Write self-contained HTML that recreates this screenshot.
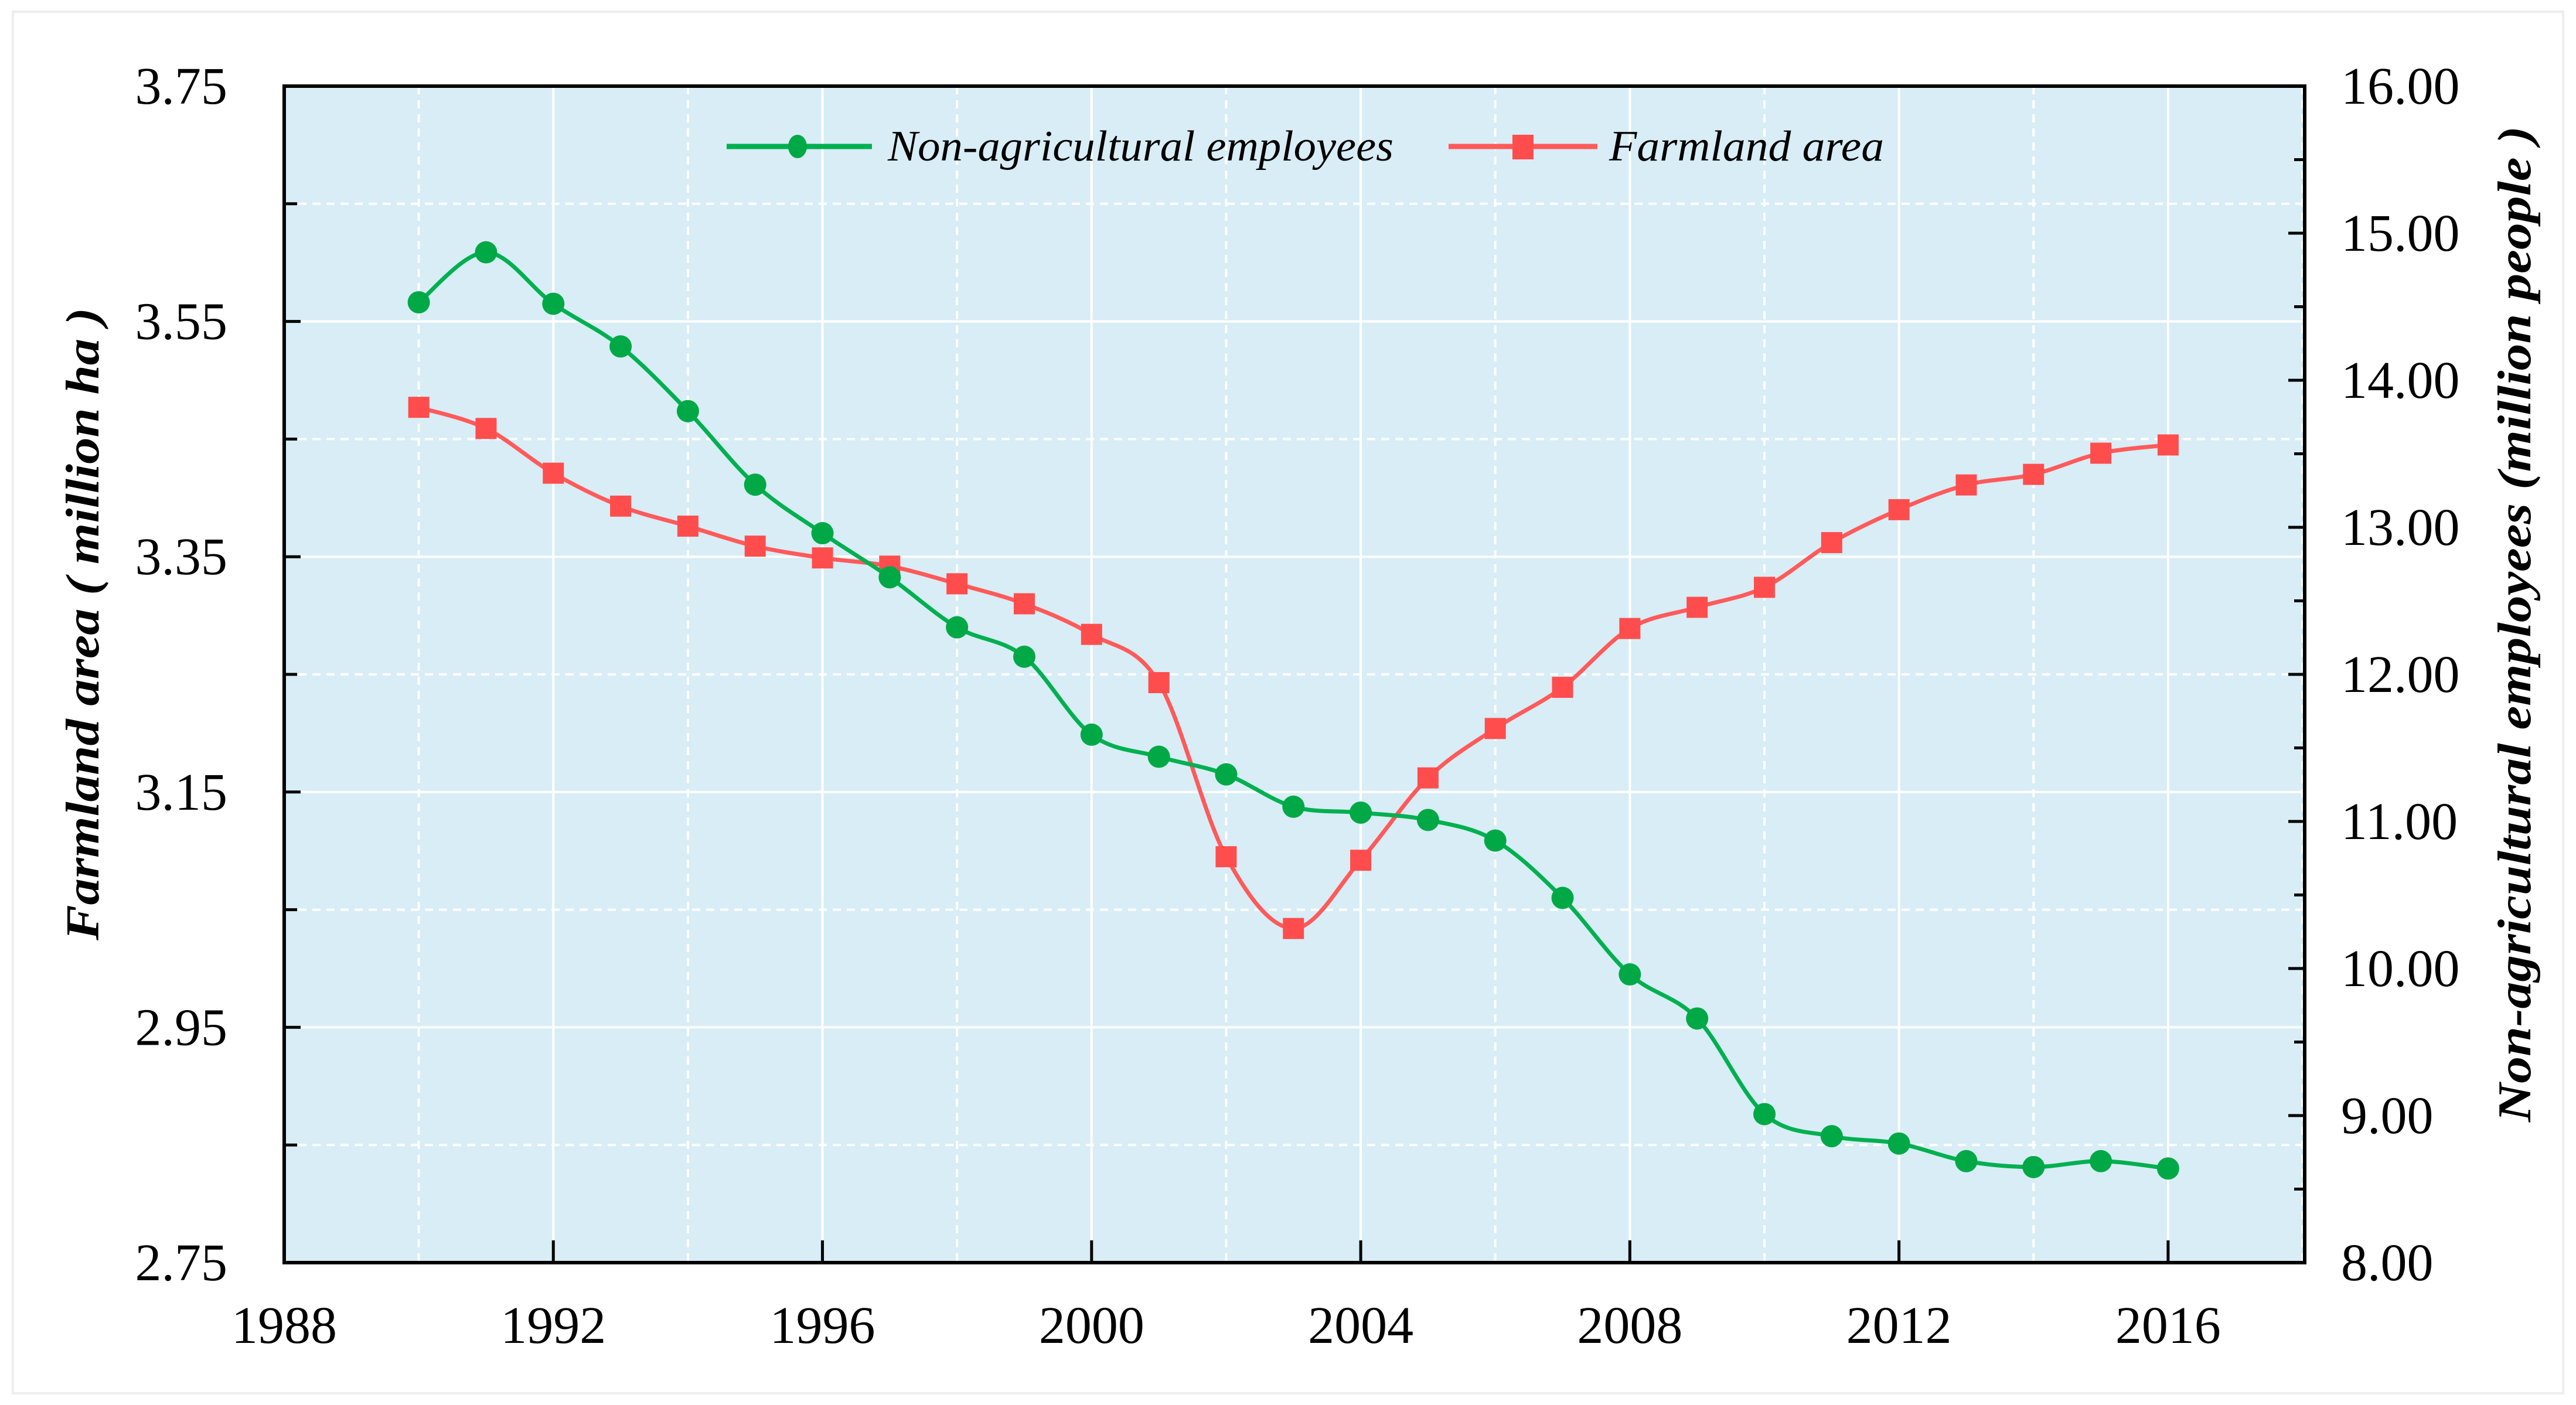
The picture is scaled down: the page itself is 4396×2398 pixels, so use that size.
<!DOCTYPE html>
<html><head><meta charset="utf-8">
<style>
html,body{margin:0;padding:0;background:#fff;}
svg{display:block;}
text{font-family:"Liberation Serif","Times New Roman",serif;fill:#000;}
</style></head>
<body>
<svg id="chart" width="4396" height="2398" viewBox="0 0 4396 2398" xmlns="http://www.w3.org/2000/svg">
<rect x="22" y="20" width="4352" height="2358" fill="#fff" stroke="#eeeeee" stroke-width="4"/>
<rect x="485" y="147" width="3448" height="2008" fill="#d8edf6"/>
<g id="grid"></g>
<g id="series"></g>
<rect x="485" y="147" width="3448" height="2008" fill="none" stroke="#000" stroke-width="6"/>
<g id="axes"></g>
<text transform="translate(168,1065) rotate(-90)" text-anchor="middle" font-size="80" font-weight="bold" font-style="italic" textLength="1080" lengthAdjust="spacingAndGlyphs">Farmland area ( million ha )</text>
<text transform="translate(4318,1065) rotate(-90)" text-anchor="middle" font-size="80" font-weight="bold" font-style="italic" textLength="1700" lengthAdjust="spacingAndGlyphs">Non-agricultural employees (million people )</text>
<g>
  <g>
    <line x1="1240" y1="250" x2="1488" y2="250" stroke="#00b050" stroke-width="9"/>
    <ellipse cx="1361" cy="250" rx="16" ry="20" fill="#00a846"/>
    <text x="1515" y="274" font-size="74" font-style="italic" textLength="863" lengthAdjust="spacingAndGlyphs">Non-agricultural employees</text>
  </g>
  <g>
    <line x1="2472" y1="250" x2="2726" y2="250" stroke="#ff5a5a" stroke-width="9"/>
    <rect x="2581" y="230" width="36" height="42" fill="#ff4d4d"/>
    <text x="2746" y="274" font-size="74" font-style="italic" textLength="469" lengthAdjust="spacingAndGlyphs">Farmland area</text>
  </g>
</g>
</svg>
<script>
const years = [1990,1991,1992,1993,1994,1995,1996,1997,1998,1999,2000,2001,2002,2003,2004,2005,2006,2007,2008,2009,2010,2011,2012,2013,2014,2015,2016];
const employees = [14.53,14.87,14.52,14.23,13.79,13.29,12.96,12.66,12.32,12.12,11.59,11.44,11.32,11.10,11.06,11.01,10.87,10.48,9.96,9.66,9.01,8.86,8.81,8.69,8.65,8.69,8.64];
const farmland = [3.477,3.459,3.421,3.393,3.376,3.359,3.349,3.342,3.327,3.310,3.284,3.243,3.095,3.034,3.092,3.162,3.204,3.239,3.289,3.307,3.324,3.362,3.390,3.411,3.420,3.438,3.445];
const xTicks = [1988,1992,1996,2000,2004,2008,2012,2016];
const leftTicks = ["3.75","3.55","3.35","3.15","2.95","2.75"];
const rightTicks = ["16.00","15.00","14.00","13.00","12.00","11.00","10.00","9.00","8.00"];

const NS="http://www.w3.org/2000/svg";
const L=485,R=3933,T=147,B=2155;
const X0=1988,X1=2018.03;
const x=v=>L+(v-X0)/(X1-X0)*(R-L);
const yL=v=>B-(v-2.75)/(1.0)*(B-T);
const yR=v=>B-(v-8)/8*(B-T);
function mk(tag,attrs,parent){const e=document.createElementNS(NS,tag);for(const k in attrs)e.setAttribute(k,attrs[k]);parent.appendChild(e);return e;}
const grid=document.getElementById('grid'),axes=document.getElementById('axes'),series=document.getElementById('series');

for(let yr=1990;yr<=2018;yr+=2){
  const major=(yr%4===0);
  const g=mk('line',{x1:x(yr),x2:x(yr),y1:T,y2:B,stroke:'#ffffff','stroke-width':4,'stroke-dasharray':major?'none':'14 10'},grid);
  
  
}
for(let i=1;i<10;i++){
  const v=2.75+i*0.1;
  const major=(i%2===0);
  const g=mk('line',{x1:L,x2:R,y1:yL(v),y2:yL(v),stroke:'#ffffff','stroke-width':4,'stroke-dasharray':major?'none':'14 10'},grid);
  
  
}
xTicks.forEach(t=>{
  const tk=mk('line',{x1:x(t),x2:x(t),y1:B,y2:B-38,stroke:'#000','stroke-width':5},axes);
  
  
  const tx=mk('text',{x:x(t),y:2292,'text-anchor':'middle','font-size':90},axes);
  tx.textContent=t;
  
  
});
leftTicks.forEach(s=>{
  const v=parseFloat(s);
  const tx=mk('text',{x:388,y:yL(v)+30,'text-anchor':'end','font-size':90},axes);
  tx.textContent=s;
  
  
});
for(let i=1;i<10;i++){
  const v=2.75+i*0.1;
  const tk=mk('line',{x1:L,x2:L+(i%2===0?28:22),y1:yL(v),y2:yL(v),stroke:'#000','stroke-width':5},axes);
  
  
}
rightTicks.forEach(s=>{
  const v=parseFloat(s);
  const tx=mk('text',{x:3995,y:yR(v)+30,'text-anchor':'start','font-size':90},axes);
  tx.textContent=s;
  
  
});
for(let i=1;i<16;i++){
  const v=8+i*0.5;
  const tk=mk('line',{x1:R,x2:R-(i%2===0?28:18),y1:yR(v),y2:yR(v),stroke:'#000','stroke-width':5},axes);
  
  
}
function smooth(pts){
  let d='M'+pts[0][0]+','+pts[0][1];
  for(let i=0;i<pts.length-1;i++){
    const p0=pts[i-1]||pts[i],p1=pts[i],p2=pts[i+1],p3=pts[i+2]||p2;
    const c1=[p1[0]+(p2[0]-p0[0])/6,p1[1]+(p2[1]-p0[1])/6];
    const c2=[p2[0]-(p3[0]-p1[0])/6,p2[1]-(p3[1]-p1[1])/6];
    d+=' C'+c1[0]+','+c1[1]+' '+c2[0]+','+c2[1]+' '+p2[0]+','+p2[1];
  }
  return d;
}
const fp=years.map((yr,i)=>[x(yr),yL(farmland[i])]);
const fl=mk('path',{d:smooth(fp),fill:'none',stroke:'#ff5a5a','stroke-width':7},series);


fp.forEach(p=>{
  const m=mk('rect',{x:p[0]-18,y:p[1]-18,width:36,height:36,fill:'#ff4d4d'},series);
  
  
});
const ep=years.map((yr,i)=>[x(yr),yR(employees[i])]);
const el=mk('path',{d:smooth(ep),fill:'none',stroke:'#00b050','stroke-width':7},series);


ep.forEach(p=>{
  const m=mk('circle',{cx:p[0],cy:p[1],r:19,fill:'#00a846'},series);
  
  
});
</script>
</body></html>
